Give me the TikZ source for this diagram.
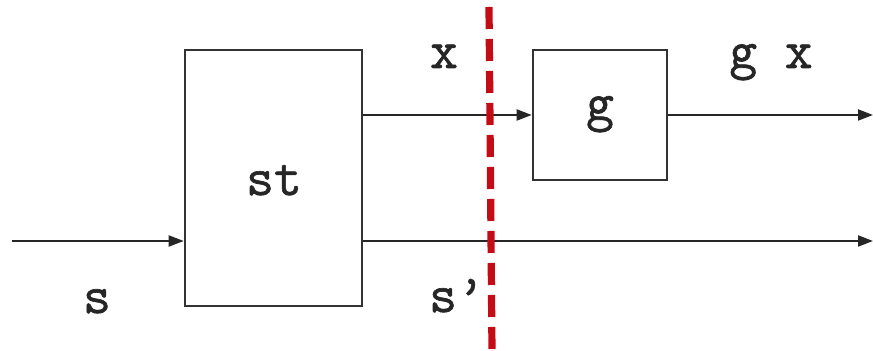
\documentclass[tikz,border=0pt]{standalone}
\usepackage{fontspec}
\usetikzlibrary{arrows.meta}
\newfontfamily\sigfont[FakeBold=1.2]{Latin Modern Mono}
\begin{document}
\begin{tikzpicture}[x=0.5pt, y=-0.5pt,
  every node/.style={font=\fontsize{27}{30}\selectfont\sigfont, text=black!85},
  blockbox/.style={draw=black!80, line width=1.3pt, inner sep=0pt},
  sig/.style={draw=black!85, line width=1pt, -{Triangle[length=7.5pt,width=5.5pt]}},
  label/.style={anchor=base, inner sep=0pt},
  cut/.style={draw={rgb,255:red,196;green,12;blue,22}, line width=3.6pt, dash pattern=on 11pt off 5pt}
]
\useasboundingbox (0,0) rectangle (873,351);

% blocks
\node[blockbox, minimum width=88.5pt, minimum height=128pt] (st) at (273.5,178) {};
\node[label] (stlabel) at (274,195) {st};
\node[blockbox, minimum width=67pt, minimum height=65pt] (g) at (600,115) {};
\node[label] (glabel) at (600,120) {g};

% free ends of the signal lines
\coordinate (sin) at (12,241);
\coordinate (gxout) at (873,115);
\coordinate (sout) at (873,241);

% signals
\draw[sig] (sin) -- (st.west |- sin);
\draw[sig] (st.east |- g.west) -- (g.west);
\draw[sig] (g.east) -- (gxout);
\draw[sig] (st.east |- sout) -- (sout);

% signal names
\node[label] (s) at (97,313) {s};
\node[label] (x) at (444,68) {x};
\node[label] (sp) at (457,312) {s’};
\node[label] (gx) at (771,68) {g x};

% cut line
\coordinate (cuttop) at (489,7);
\coordinate (cutbot) at (492,351);
\draw[cut] (cuttop) -- (cutbot);
\end{tikzpicture}
\end{document}
